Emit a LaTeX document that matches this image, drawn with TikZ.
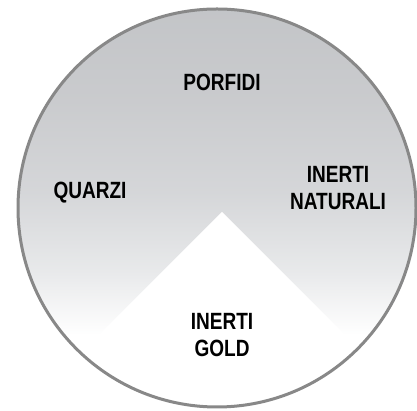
\documentclass[tikz,border=0pt]{standalone}
\usepackage{fontspec}
\newfontfamily\labelfont[FakeStretch=0.81]{Liberation Sans}
\usepackage{xcolor}
\usepackage{tikz}
\usetikzlibrary{positioning}

\definecolor{rimgray}{RGB}{136,136,136}
\pgfdeclareverticalshading{wheelfade}{100bp}{rgb(0bp)=(1,1,1); rgb(34bp)=(1,1,1);
    rgb(42bp)=(0.91,0.915,0.92); rgb(52bp)=(0.835,0.84,0.85); rgb(64bp)=(0.79,0.795,0.805);
    rgb(75bp)=(0.765,0.772,0.783); rgb(100bp)=(0.765,0.772,0.783)}

\begin{document}
\begin{tikzpicture}[x=1pt, y=1pt,
        sector/.style={font=\labelfont\bfseries\fontsize{23.5}{27}\selectfont, align=center, text=black, inner sep=0pt}]
        \useasboundingbox (0,0) rectangle (417,411);
        \coordinate (c) at (217,203);
        \coordinate (tip) at (222,199);

        % disc with the white wedge at the bottom
        \begin{scope}
            \clip (c) circle (199);
            \shade[shading=wheelfade] (c) circle (199);
            \fill[white] (tip) -- ++(-260,-260) -- ++(520,0) -- cycle;
        \end{scope}
        \draw[rimgray, line width=3pt] (c) circle (199);

        \node[sector] (porfidi) at (222,329) {PORFIDI};
        \node[sector] (quarzi)  at (90,218)  {QUARZI};
        \node[sector] (naturali) at (338,223) {INERTI\\NATURALI};
        \node[sector] (gold)    at (222,76)  {INERTI\\GOLD};
\end{tikzpicture}
\end{document}
